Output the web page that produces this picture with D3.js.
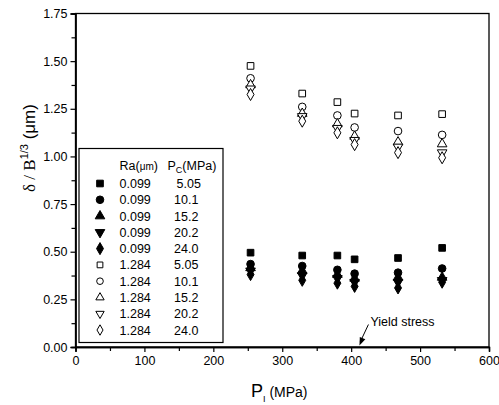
<!DOCTYPE html>
<html><head><meta charset="utf-8">
<script src="https://cdn.jsdelivr.net/npm/d3@7"></script>
<style>body{margin:0;background:#fff}svg{display:block}text{font-family:"Liberation Sans",Arial,sans-serif}</style>
</head><body><div id="chart"></div>
<script>
const pressures = [254, 329, 380, 405, 468, 532];
const raLabels = ["0.099","0.099","0.099","0.099","0.099","1.284","1.284","1.284","1.284","1.284"];
const pcLabels = ["5.05","10.1","15.2","20.2","24.0","5.05","10.1","15.2","20.2","24.0"];
const symbols = ["square","circle","triangle","triangleDown","diamond","square","circle","triangle","triangleDown","diamond"];
const filled = [true,true,true,true,true,false,false,false,false,false];
const s1 = [0.495,0.48,0.48,0.46,0.467,0.52];
const s2 = [0.435,0.425,0.405,0.385,0.39,0.412];
const s3 = [0.415,0.40,0.38,0.36,0.365,0.365];
const s4 = [0.40,0.375,0.36,0.34,0.34,0.35];
const s5 = [0.38,0.35,0.335,0.318,0.31,0.34];
const s6 = [1.475,1.33,1.285,1.225,1.215,1.222];
const s7 = [1.41,1.26,1.215,1.152,1.133,1.113];
const s8 = [1.375,1.225,1.17,1.105,1.075,1.065];
const s9 = [1.355,1.21,1.148,1.085,1.05,1.02];
const s10 = [1.325,1.185,1.124,1.062,1.02,0.993];
const seriesValues = [s1,s2,s3,s4,s5,s6,s7,s8,s9,s10];
const xTicks = [0,100,200,300,400,500,600];
const yTicks = [0,0.25,0.5,0.75,1.0,1.25,1.5,1.75];
const yieldStress = {x: 412, label: "Yield stress"};

const W = 499, H = 405;
const svg = d3.select("#chart").append("svg").attr("width", W).attr("height", H);
const x = d3.scaleLinear().domain([0,600]).range([75.5,489]);
const y = d3.scaleLinear().domain([0,1.75]).range([347,13.5]);

// frame
svg.append("rect").attr("x", x(0)).attr("y", y(1.75)).attr("width", x(600)-x(0)).attr("height", y(0)-y(1.75))
  .attr("fill","none").attr("stroke","#000").attr("stroke-width",1.3);

// axes
const xAxis = svg.append("g").attr("transform",`translate(0,${y(0)})`)
  .call(d3.axisBottom(x).tickValues(xTicks).tickFormat(d3.format("d")).tickSize(5).tickPadding(4));
const xMinor = svg.append("g").attr("transform",`translate(0,${y(0)})`)
  .call(d3.axisBottom(x).tickValues(d3.range(50,600,100)).tickFormat("").tickSize(4));
const yAxis = svg.append("g").attr("transform",`translate(${x(0)},0)`)
  .call(d3.axisLeft(y).tickValues(yTicks).tickFormat(d3.format(".2f")).tickSize(5).tickPadding(3));
const yMinor = svg.append("g").attr("transform",`translate(${x(0)},0)`)
  .call(d3.axisLeft(y).tickValues(d3.range(0.125,1.75,0.25)).tickFormat("").tickSize(4));
[xAxis,xMinor,yAxis,yMinor].forEach(g=>{
  g.select(".domain").attr("stroke-width",1.3);
  g.selectAll(".tick line").attr("stroke-width",1.2);
  g.selectAll("text").attr("font-size",12.5).attr("fill","#000").attr("font-family","Liberation Sans, Arial, sans-serif");
});

function symPath(name, size){
  const map = {square:d3.symbolSquare, circle:d3.symbolCircle, triangle:d3.symbolTriangle, triangleDown:d3.symbolTriangle, diamond:d3.symbolDiamond};
  return d3.symbol().type(map[name]).size(size)();
}
const sizes = {square:44, circle:46, triangle:40, triangleDown:40, diamond:42};
function drawMarker(g, name, isFilled, cx, cy){
  g.append("path").attr("d", symPath(name, sizes[name]))
    .attr("transform",`translate(${cx},${cy})` + (name==="triangleDown"?" rotate(180)":""))
    .attr("fill", isFilled ? "#000" : "#fff").attr("stroke","#000").attr("stroke-width",1);
}

const pts = svg.append("g");
seriesValues.forEach((vals, i) => {
  vals.forEach((v, j) => drawMarker(pts, symbols[i], filled[i], x(pressures[j]), y(v)));
});

// yield stress annotation
const ya = svg.append("g");
const ax = x(yieldStress.x), ay = y(0)-1.5;
ya.append("line").attr("x1", ax+9).attr("y1", ay-21).attr("x2", ax+1).attr("y2", ay-4).attr("stroke","#000").attr("stroke-width",1);
ya.append("path").attr("d","M0,0 L-3,-8 L3,-8 Z").attr("fill","#000")
  .attr("transform",`translate(${ax},${ay}) rotate(${Math.atan2(9,21)*180/Math.PI})`);
ya.append("text").attr("x", ax+11).attr("y", ay-20).attr("font-size",12.5).text(yieldStress.label);

// legend
const lg = svg.append("g");
lg.append("rect").attr("x",79).attr("y",148.5).attr("width",144).attr("height",194).attr("fill","#fff").attr("stroke","#000").attr("stroke-width",1.2);
const hdr = lg.append("text").attr("x",119.5).attr("y",169.5).attr("font-size",12.5);
hdr.append("tspan").text("Ra(");
hdr.append("tspan").attr("font-size",10).text("μm");
hdr.append("tspan").text(")");
const hdr2 = lg.append("text").attr("x",167.5).attr("y",169.5).attr("font-size",12.5);
hdr2.append("tspan").text("P");
hdr2.append("tspan").attr("font-size",9).attr("dy",3).text("C");
hdr2.append("tspan").attr("dy",-3).text("(MPa)");
raLabels.forEach((ra,i)=>{
  const cy = 183.5 + i*16.28;
  const nm = symbols[i];
  lg.append("path").attr("d", symPath(nm, filled[i]? sizes[nm] : sizes[nm]*0.75))
    .attr("transform",`translate(100,${cy})` + (nm==="triangleDown"?" rotate(180)":""))
    .attr("fill", filled[i] ? "#000" : "#fff").attr("stroke","#000").attr("stroke-width",1);
  lg.append("text").attr("x",119.5).attr("y",cy+4.5).attr("font-size",12.5).text(ra);
  lg.append("text").attr("x", i===0 ? 176.5 : 174).attr("y",cy+4.5).attr("font-size",12.5).text(pcLabels[i]);
});

// axis titles
const xt = svg.append("text").attr("x",251).attr("y",397).attr("font-size",18);
xt.append("tspan").text("P");
xt.append("tspan").attr("font-size",9).attr("dy",5).text("I");
xt.append("tspan").attr("font-size",14).attr("dy",-5).text(" (MPa)");

const yt = svg.append("text").attr("transform","translate(35,148) rotate(-90)").attr("text-anchor","middle").attr("font-size",17);
yt.append("tspan").attr("font-family","Liberation Serif, Times New Roman, serif").text("δ / B");
yt.append("tspan").attr("font-size",11).attr("dy",-7).text("1/3");
yt.append("tspan").attr("dy",7).text(" (μm)");
</script></body></html>
